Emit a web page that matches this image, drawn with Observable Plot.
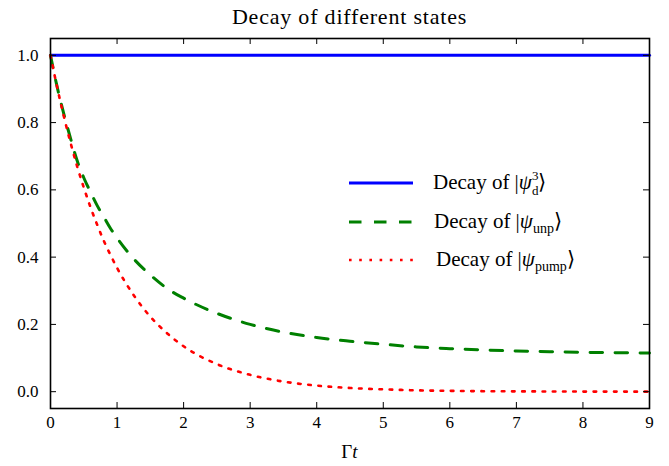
<!DOCTYPE html>
<html><head><meta charset="utf-8">
<script src="https://cdn.jsdelivr.net/npm/d3@7"></script>
<script src="https://cdn.jsdelivr.net/npm/@observablehq/plot@0.6"></script>
<style>
body{margin:0;background:#fff;width:669px;height:466px;overflow:hidden;font-family:"Liberation Serif",serif;}
#title{height:30px;box-sizing:border-box;padding-left:50px;padding-right:20px;text-align:center;font-size:22px;line-height:34px;color:#000;letter-spacing:0.8px;}
</style></head><body>
<div id="title">Decay of different states</div>
<div id="chart"></div>
<script>
// ---- data ----
const tValues = [0,0.1,0.2,0.3,0.4,0.5,0.6,0.7,0.8,0.9,1.0,1.25,1.5,1.75,2.0,2.5,3.0,3.5,4.0,4.5,5.0,5.5,6.0,6.5,7.0,7.5,8.0,8.5,9.0];
const psiUnp = [1.0,0.906,0.826,0.754,0.687,0.636,0.594,0.554,0.52,0.486,0.457,0.395,0.347,0.307,0.278,0.233,0.200,0.177,0.161,0.150,0.141,0.133,0.128,0.124,0.121,0.119,0.117,0.116,0.115];
const psiPump = [1.0,0.905,0.819,0.741,0.670,0.607,0.549,0.497,0.449,0.407,0.368,0.287,0.223,0.174,0.135,0.082,0.050,0.030,0.018,0.011,0.007,0.004,0.0025,0.0015,0.001,0.0006,0.0003,0.0002,0.0001];
const tD3 = [0, 9];
const psiD3 = [1.0, 1.0];
const xTicks = [0,1,2,3,4,5,6,7,8,9];
const yTicks = [0.0,0.2,0.4,0.6,0.8,1.0];

const W=669,H=436,mL=50,mR=20,mT=8,mB=58;
const pw=W-mL-mR, ph=H-mT-mB;
const rows=(xs,ys)=>xs.map((x,i)=>({t:x,v:ys[i]}));

const plot = Plot.plot({
  width:W,height:H,marginLeft:mL,marginRight:mR,marginTop:mT,marginBottom:mB,
  style:{fontFamily:'"Liberation Serif", serif',fontSize:"17px",color:"black",background:"white",overflow:"visible"},
  x:{domain:[0,9]},
  y:{domain:[-0.05,1.05]},
  marks:[
    Plot.line(rows(tD3,psiD3),{x:"t",y:"v",stroke:"#0000ff",strokeWidth:3}),
    Plot.line(rows(tValues,psiUnp),{x:"t",y:"v",stroke:"#008000",strokeWidth:3,strokeDasharray:"12.5 12.5",curve:"monotone-x"}),
    Plot.line(rows(tValues,psiPump),{x:"t",y:"v",stroke:"#ff0000",strokeWidth:2.6,strokeDasharray:"2.6 7.6",curve:"monotone-x"}),
    Plot.tickY(yTicks,{insetRight:pw-6,stroke:"black",strokeWidth:1}),
    Plot.tickY(yTicks,{insetLeft:pw-6,stroke:"black",strokeWidth:1}),
    Plot.tickX(xTicks,{insetTop:ph-6,stroke:"black",strokeWidth:1}),
    Plot.tickX(xTicks,{insetBottom:ph-6,stroke:"black",strokeWidth:1}),
    Plot.frame({stroke:"black",strokeWidth:1.6}),
    Plot.axisY(yTicks,{tickSize:0,tickPadding:12,tickFormat:d3.format(".1f"),label:null}),
    Plot.axisX(xTicks,{tickSize:0,tickPadding:7,tickFormat:d3.format("d"),label:null})
  ]
});
document.getElementById("chart").appendChild(plot);

// x label and legend
const svg = d3.select(plot);
const xl = svg.append("text").attr("x", mL+pw/2).attr("y", 428).attr("text-anchor","middle")
  .attr("font-size",19).attr("font-family",'"Liberation Serif", serif').attr("fill","black");
xl.append("tspan").text("Γ");
xl.append("tspan").attr("font-style","italic").text("t");

const lg = svg.append("g").attr("font-family",'"Liberation Serif", serif').attr("font-size",21)
  .attr("fill","black").attr("text-anchor","start");
const legendRows = [
  {y:153, stroke:"#0000ff", w:3, dash:null, tx:433},
  {y:192, stroke:"#008000", w:3, dash:"12.5 12.5", tx:434},
  {y:230, stroke:"#ff0000", w:2.6, dash:"2.6 7.6", tx:436}
];
legendRows.forEach((r,i)=>{
  const ln = lg.append("line").attr("x1",349).attr("x2",413).attr("y1",r.y).attr("y2",r.y)
    .attr("stroke",r.stroke).attr("stroke-width",r.w);
  if(r.dash) ln.attr("stroke-dasharray",r.dash);
  const t = lg.append("text").attr("x",r.tx).attr("y",r.y+6).attr("text-anchor","start");
  t.append("tspan").text("Decay of |");
  t.append("tspan").attr("font-style","italic").text("ψ");
  if(i===0){
    t.append("tspan").attr("font-size",13).attr("dy",6).text("d");
    t.append("tspan").attr("font-size",13).attr("dx",-6.5).attr("dy",-15).text("3");
    t.append("tspan").attr("dy",9).text("⟩");
  } else {
    t.append("tspan").attr("font-size",14).attr("dy",5).text(i===1?"unp":"pump");
    t.append("tspan").attr("dy",-5).text("⟩");
  }
});
</script></body></html>
